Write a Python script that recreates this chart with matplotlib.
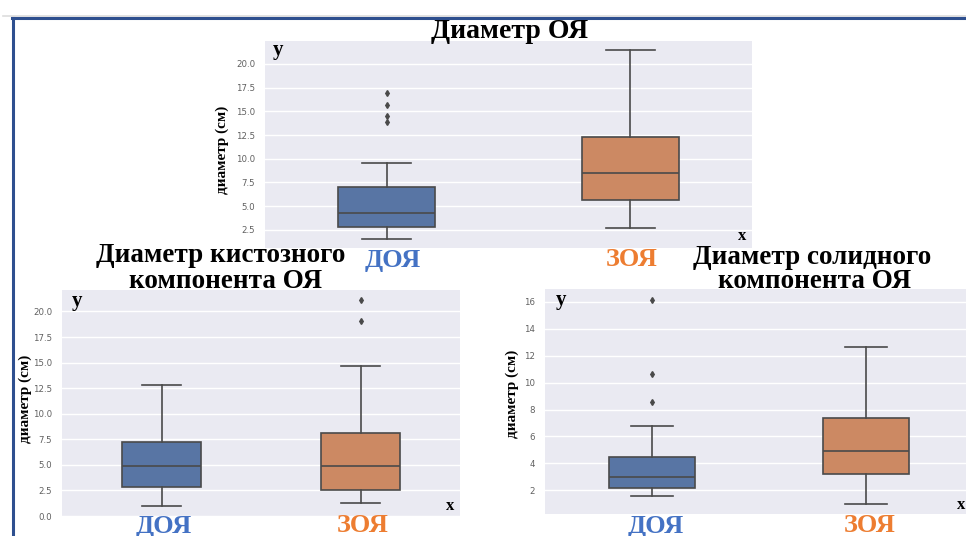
import matplotlib
matplotlib.use("Agg")
import matplotlib.pyplot as plt
from matplotlib.lines import Line2D

# Данные: whislo, q1, med, q3, whishi, выбросы
groups = ["ДОЯ", "ЗОЯ"]
group_colors = ["#5875a4", "#cc8963"]
label_colors = ["#4472c4", "#ed7d31"]

ovary_low = [1.55, 2.74]
ovary_q1 = [2.78, 5.63]
ovary_med = [4.32, 8.50]
ovary_q3 = [7.00, 12.27]
ovary_high = [9.53, 21.47]
ovary_out = [[13.9, 14.45, 15.67, 16.97], []]

cyst_low = [1.00, 1.30]
cyst_q1 = [2.84, 2.55]
cyst_med = [4.87, 4.90]
cyst_q3 = [7.19, 8.07]
cyst_high = [12.84, 14.68]
cyst_out = [[], [19.09, 21.1]]

solid_low = [1.58, 0.96]
solid_q1 = [2.20, 3.20]
solid_med = [2.96, 4.90]
solid_q3 = [4.44, 7.34]
solid_high = [6.79, 12.65]
solid_out = [[8.56, 10.67, 16.15], []]

ovary_ticks = [2.5, 5.0, 7.5, 10.0, 12.5, 15.0, 17.5, 20.0]
cyst_ticks = [0.0, 2.5, 5.0, 7.5, 10.0, 12.5, 15.0, 17.5, 20.0]
solid_ticks = [2, 4, 6, 8, 10, 12, 14, 16]

W, H = 966, 536
SERIF = ["Liberation Serif", "DejaVu Serif"]


def fx(x):
    return x / W


def fy(y):
    return 1 - y / H


def panel(fig, left, top, right, bottom, low, q1, med, q3, high, out,
          ylim, ticks, fmt):
    ax = fig.add_axes([fx(left), fy(bottom), fx(right - left), (bottom - top) / H])
    ax.set_facecolor("#eaeaf2")
    stats = []
    for i in range(len(groups)):
        stats.append(dict(whislo=low[i], q1=q1[i], med=med[i], q3=q3[i],
                          whishi=high[i], fliers=out[i]))
    edge = "#4a4a4a"
    b = ax.bxp(stats, positions=range(len(groups)), widths=0.4,
               patch_artist=True, showfliers=True,
               boxprops=dict(edgecolor=edge, linewidth=1.2),
               medianprops=dict(color=edge, linewidth=1.2),
               whiskerprops=dict(color=edge, linewidth=1.2),
               capprops=dict(color=edge, linewidth=1.2),
               flierprops=dict(marker="d", markersize=3,
                               markerfacecolor=edge, markeredgecolor=edge))
    for patch, c in zip(b["boxes"], group_colors):
        patch.set_facecolor(c)
    ax.set_xlim(-0.5, 1.5)
    ax.set_ylim(*ylim)
    ax.set_xticks([])
    ax.set_yticks(ticks)
    ax.set_yticklabels([fmt.format(t) for t in ticks])
    ax.tick_params(axis="y", length=0, pad=7, labelsize=6.2, labelcolor="#606060")
    ax.grid(True, axis="y", color="white", linewidth=1.0)
    ax.set_axisbelow(True)
    for s in ax.spines.values():
        s.set_visible(False)
    return ax


fig = plt.figure(figsize=(W / 100, H / 100), dpi=100)

panel(fig, 265, 41, 752, 248, ovary_low, ovary_q1, ovary_med, ovary_q3,
      ovary_high, ovary_out, (0.6, 22.4), ovary_ticks, "{:.1f}")
panel(fig, 62, 290, 460, 516, cyst_low, cyst_q1, cyst_med, cyst_q3,
      cyst_high, cyst_out, (0.0, 22.1), cyst_ticks, "{:.1f}")
panel(fig, 545, 289, 973, 514, solid_low, solid_q1, solid_med, solid_q3,
      solid_high, solid_out, (0.24, 16.96), solid_ticks, "{:d}")


def txt(x, y, s, size, color="black", **kw):
    fig.text(fx(x), fy(y), s, fontsize=size, color=color, family=SERIF,
             fontweight="bold", ha="center", va="center", **kw)


# заголовки
txt(510, 31, "Диаметр ОЯ", 20)
txt(221, 256, "Диаметр кистозного", 19.5)
txt(226, 282, "компонента ОЯ", 19.5)
txt(812, 257, "Диаметр солидного", 19.5)
txt(815, 282, "компонента ОЯ", 19.5)

# подписи осей
txt(222, 150, "диаметр (см)", 11, rotation=90)
txt(25, 399, "диаметр (см)", 11, rotation=90)
txt(512, 394, "диаметр (см)", 11, rotation=90)
for x, y in [(278, 50), (77, 301), (561, 300)]:
    txt(x, y, "y", 15)
for x, y in [(742, 236), (450, 506), (961, 505)]:
    txt(x, y, "x", 12)

# категории
for i, (g, c) in enumerate(zip(groups, label_colors)):
    txt([393, 632][i], 260, g, 19, color=c)
    txt([164, 363][i], 526, g, 19, color=c)
    txt([656, 870][i], 526, g, 19, color=c)

# рамка слайда
fig.add_artist(Line2D([fx(3), 1], [fy(15.8), fy(15.8)], color="#dddddd", lw=1.2))
fig.add_artist(Line2D([fx(12), 1], [fy(18), fy(18)], color="#2e4f8f", lw=2.2))
fig.add_artist(Line2D([fx(12.5), fx(12.5)], [fy(18), 0], color="#2e4f8f", lw=2.2))

fig.savefig("out.png", dpi=100)
